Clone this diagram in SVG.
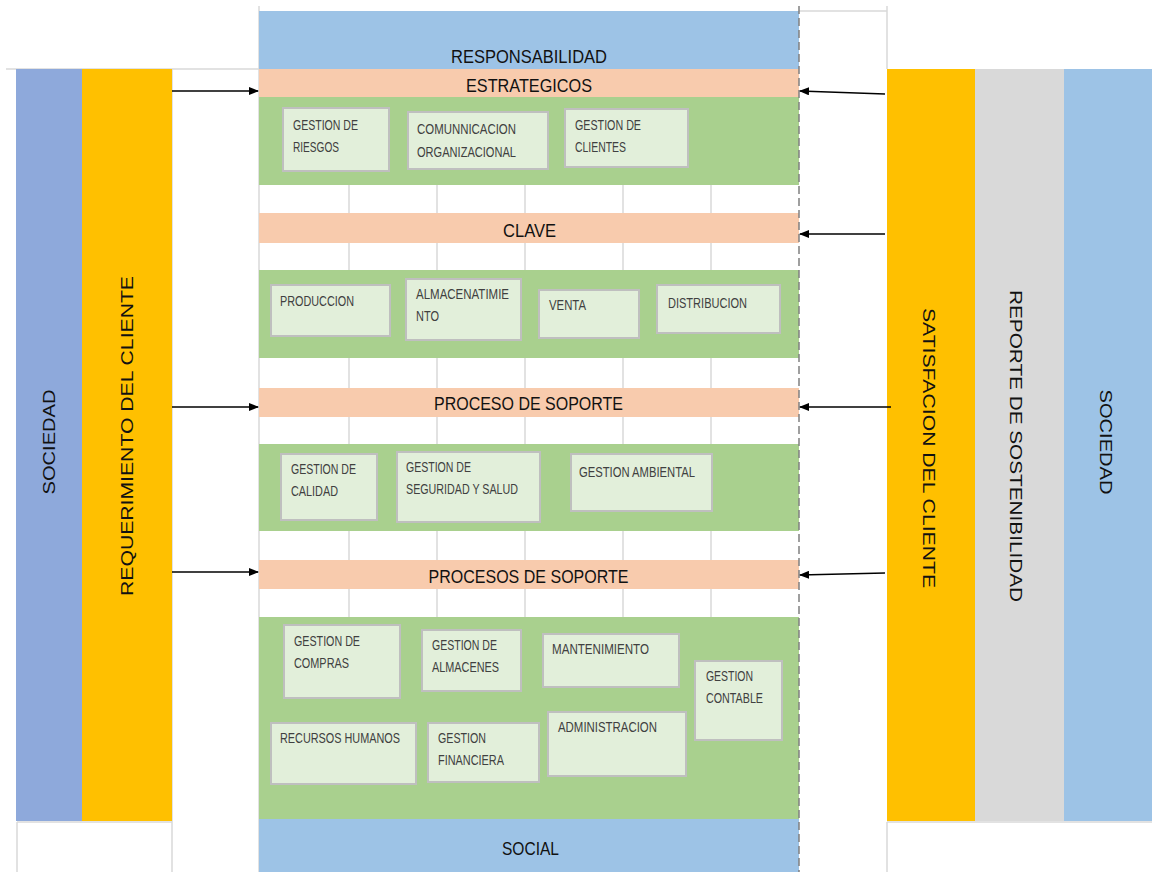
<svg xmlns="http://www.w3.org/2000/svg" width="1152" height="872" viewBox="0 0 1152 872">
<defs>
<marker id="ah" markerWidth="10" markerHeight="8" refX="9" refY="4" orient="auto" markerUnits="userSpaceOnUse">
<path d="M0,0 L10,4 L0,8 Z" fill="#000"/>
</marker>
<style>
.grid{stroke:#D9D9D9;stroke-width:1.5;fill:none}
.box{fill:#E2EFDA;stroke:#BFBFBF;stroke-width:2}
.bt{font-family:"Liberation Sans",Arial,sans-serif;font-size:14px;fill:#404040}
.ht{font-family:"Liberation Sans",Arial,sans-serif;font-size:19px;fill:#111;text-anchor:middle}
.ct{font-family:"Liberation Sans",Arial,sans-serif;font-size:17px;fill:#111;text-anchor:middle}
.conn{stroke:#000;stroke-width:1.6;fill:none}
</style>
</defs>
<rect width="1152" height="872" fill="#fff"/>

<!-- grid lines -->
<g id="gridlines">
<line class="grid" x1="6" y1="69" x2="259" y2="69"/>
<line class="grid" x1="259" y1="6" x2="259" y2="872"/>
<line class="grid" x1="799" y1="11" x2="887" y2="11"/>
<line class="grid" x1="887" y1="6" x2="887" y2="69"/>
<line class="grid" x1="17" y1="822" x2="172" y2="822"/>
<line class="grid" x1="17" y1="822" x2="17" y2="872"/>
<line class="grid" x1="172" y1="69" x2="172" y2="872"/>
<line class="grid" x1="887" y1="822" x2="1152" y2="822"/>
<line class="grid" x1="887" y1="822" x2="887" y2="872"/>
<path class="grid" d="M349,185V213M437,185V213M525,185V213M623,185V213M711,185V213
M349,243V270M437,243V270M525,243V270M623,243V270M711,243V270
M349,358V388M437,358V388M525,358V388M623,358V388M711,358V388
M349,417V444M437,417V444M525,417V444M623,417V444M711,417V444
M349,531V560M437,531V560M525,531V560M623,531V560M711,531V560
M349,589V617M437,589V617M525,589V617M623,589V617M711,589V617"/>
</g>

<!-- side columns -->
<g id="col-sociedad-left">
<rect x="16" y="69" width="66" height="752" fill="#8EA9DB"/>
<text class="ct" transform="translate(49,442) rotate(-90)" y="6" textLength="105" lengthAdjust="spacingAndGlyphs" fill="#222a3a">SOCIEDAD</text>
</g>
<g id="col-requerimiento">
<rect x="82" y="69" width="90" height="752" fill="#FFC000"/>
<text class="ct" transform="translate(127,436) rotate(-90)" y="6" textLength="320" lengthAdjust="spacingAndGlyphs">REQUERIMIENTO DEL CLIENTE</text>
</g>
<g id="col-satisfaccion">
<rect x="887" y="69" width="88" height="752" fill="#FFC000"/>
<text class="ct" transform="translate(929,448) rotate(90)" y="6" textLength="280" lengthAdjust="spacingAndGlyphs">SATISFACION DEL CLIENTE</text>
</g>
<g id="col-reporte">
<rect x="975" y="69" width="89" height="752" fill="#D9D9D9"/>
<text class="ct" transform="translate(1016,446) rotate(90)" y="6" textLength="312" lengthAdjust="spacingAndGlyphs">REPORTE DE SOSTENIBILIDAD</text>
</g>
<g id="col-sociedad-right">
<rect x="1064" y="69" width="88" height="752" fill="#9DC3E6"/>
<text class="ct" transform="translate(1106,442) rotate(90)" y="6" textLength="105" lengthAdjust="spacingAndGlyphs">SOCIEDAD</text>
</g>

<!-- central bands -->
<g id="band-responsabilidad">
<rect x="259" y="11" width="540" height="58" fill="#9DC3E6"/>
<text class="ht" x="529" y="63" textLength="156" lengthAdjust="spacingAndGlyphs">RESPONSABILIDAD</text>
</g>
<g id="band-estrategicos">
<rect x="259" y="69" width="540" height="28" fill="#F8CBAD"/>
<text class="ht" x="529" y="92" textLength="126" lengthAdjust="spacingAndGlyphs">ESTRATEGICOS</text>
</g>
<rect id="area-estrategicos" x="259" y="97" width="540" height="88" fill="#A9D08E"/>
<g id="band-clave">
<rect x="259" y="213" width="540" height="30" fill="#F8CBAD"/>
<text class="ht" x="529.5" y="237" textLength="53" lengthAdjust="spacingAndGlyphs">CLAVE</text>
</g>
<rect id="area-clave" x="259" y="270" width="540" height="88" fill="#A9D08E"/>
<g id="band-proceso-soporte">
<rect x="259" y="388" width="540" height="29" fill="#F8CBAD"/>
<text class="ht" x="528.5" y="410" textLength="189" lengthAdjust="spacingAndGlyphs">PROCESO DE SOPORTE</text>
</g>
<rect id="area-proceso-soporte" x="259" y="444" width="540" height="87" fill="#A9D08E"/>
<g id="band-procesos-soporte">
<rect x="259" y="560" width="540" height="29" fill="#F8CBAD"/>
<text class="ht" x="528.5" y="583" textLength="200" lengthAdjust="spacingAndGlyphs">PROCESOS DE SOPORTE</text>
</g>
<rect id="area-procesos-soporte" x="259" y="617" width="540" height="202" fill="#A9D08E"/>
<g id="band-social">
<rect x="259" y="819" width="540" height="53" fill="#9DC3E6"/>
<text class="ht" x="530.5" y="855" textLength="57" lengthAdjust="spacingAndGlyphs">SOCIAL</text>
</g>

<line x1="799" y1="6" x2="799" y2="872" stroke="#808080" stroke-width="1.5" stroke-dasharray="8,4"/>

<!-- process boxes -->
<g id="n-riesgos"><rect class="box" x="283" y="108" width="106" height="63"/>
<text class="bt" x="293" y="130" textLength="65" lengthAdjust="spacingAndGlyphs">GESTION DE</text>
<text class="bt" x="293" y="152" textLength="46" lengthAdjust="spacingAndGlyphs">RIESGOS</text></g>
<g id="n-comunicacion"><rect class="box" x="408" y="112" width="140" height="57"/>
<text class="bt" x="417" y="134" textLength="99" lengthAdjust="spacingAndGlyphs">COMUNNICACION</text>
<text class="bt" x="417" y="157" textLength="99" lengthAdjust="spacingAndGlyphs">ORGANIZACIONAL</text></g>
<g id="n-clientes"><rect class="box" x="565" y="109" width="123" height="58"/>
<text class="bt" x="575" y="130" textLength="66" lengthAdjust="spacingAndGlyphs">GESTION DE</text>
<text class="bt" x="575" y="152" textLength="51" lengthAdjust="spacingAndGlyphs">CLIENTES</text></g>

<g id="n-produccion"><rect class="box" x="271" y="285" width="119" height="51"/>
<text class="bt" x="280" y="306" textLength="74" lengthAdjust="spacingAndGlyphs">PRODUCCION</text></g>
<g id="n-almacenamiento"><rect class="box" x="406" y="279" width="115" height="61"/>
<text class="bt" x="416" y="299" textLength="93" lengthAdjust="spacingAndGlyphs">ALMACENATIMIE</text>
<text class="bt" x="416" y="321" textLength="23" lengthAdjust="spacingAndGlyphs">NTO</text></g>
<g id="n-venta"><rect class="box" x="539" y="290" width="100" height="48"/>
<text class="bt" x="549" y="310" textLength="37" lengthAdjust="spacingAndGlyphs">VENTA</text></g>
<g id="n-distribucion"><rect class="box" x="657" y="285" width="123" height="48"/>
<text class="bt" x="668" y="308" textLength="79" lengthAdjust="spacingAndGlyphs">DISTRIBUCION</text></g>

<g id="n-calidad"><rect class="box" x="281" y="454" width="96" height="66"/>
<text class="bt" x="291" y="474" textLength="65" lengthAdjust="spacingAndGlyphs">GESTION DE</text>
<text class="bt" x="291" y="496" textLength="47" lengthAdjust="spacingAndGlyphs">CALIDAD</text></g>
<g id="n-seguridad"><rect class="box" x="397" y="452" width="143" height="70"/>
<text class="bt" x="406" y="472" textLength="65" lengthAdjust="spacingAndGlyphs">GESTION DE</text>
<text class="bt" x="406" y="494" textLength="112" lengthAdjust="spacingAndGlyphs">SEGURIDAD Y SALUD</text></g>
<g id="n-ambiental"><rect class="box" x="571" y="454" width="141" height="57"/>
<text class="bt" x="579" y="477" textLength="116" lengthAdjust="spacingAndGlyphs">GESTION AMBIENTAL</text></g>

<g id="n-compras"><rect class="box" x="284" y="625" width="116" height="73"/>
<text class="bt" x="294" y="646" textLength="66" lengthAdjust="spacingAndGlyphs">GESTION DE</text>
<text class="bt" x="294" y="668" textLength="55" lengthAdjust="spacingAndGlyphs">COMPRAS</text></g>
<g id="n-almacenes"><rect class="box" x="422" y="630" width="99" height="61"/>
<text class="bt" x="432" y="650" textLength="65" lengthAdjust="spacingAndGlyphs">GESTION DE</text>
<text class="bt" x="432" y="672" textLength="67" lengthAdjust="spacingAndGlyphs">ALMACENES</text></g>
<g id="n-mantenimiento"><rect class="box" x="543" y="634" width="136" height="53"/>
<text class="bt" x="552" y="654" textLength="97" lengthAdjust="spacingAndGlyphs">MANTENIMIENTO</text></g>
<g id="n-contable"><rect class="box" x="695" y="661" width="87" height="79"/>
<text class="bt" x="706" y="681" textLength="47" lengthAdjust="spacingAndGlyphs">GESTION</text>
<text class="bt" x="706" y="703" textLength="57" lengthAdjust="spacingAndGlyphs">CONTABLE</text></g>
<g id="n-rrhh"><rect class="box" x="271" y="723" width="145" height="61"/>
<text class="bt" x="280" y="743" textLength="120" lengthAdjust="spacingAndGlyphs">RECURSOS HUMANOS</text></g>
<g id="n-financiera"><rect class="box" x="428" y="723" width="111" height="59"/>
<text class="bt" x="438" y="743" textLength="48" lengthAdjust="spacingAndGlyphs">GESTION</text>
<text class="bt" x="438" y="765" textLength="66" lengthAdjust="spacingAndGlyphs">FINANCIERA</text></g>
<g id="n-administracion"><rect class="box" x="548" y="712" width="138" height="64"/>
<text class="bt" x="558" y="732" textLength="99" lengthAdjust="spacingAndGlyphs">ADMINISTRACION</text></g>

<!-- connectors -->
<g id="connectors">
<line class="conn" x1="172" y1="91" x2="258" y2="91" marker-end="url(#ah)"/>
<line class="conn" x1="172" y1="407" x2="258" y2="407" marker-end="url(#ah)"/>
<line class="conn" x1="172" y1="572" x2="258" y2="572" marker-end="url(#ah)"/>
<line class="conn" x1="885" y1="94" x2="800" y2="91" marker-end="url(#ah)"/>
<line class="conn" x1="885" y1="234" x2="800" y2="234" marker-end="url(#ah)"/>
<line class="conn" x1="891" y1="407" x2="800" y2="407" marker-end="url(#ah)"/>
<line class="conn" x1="885" y1="573" x2="800" y2="575" marker-end="url(#ah)"/>
</g>
</svg>
